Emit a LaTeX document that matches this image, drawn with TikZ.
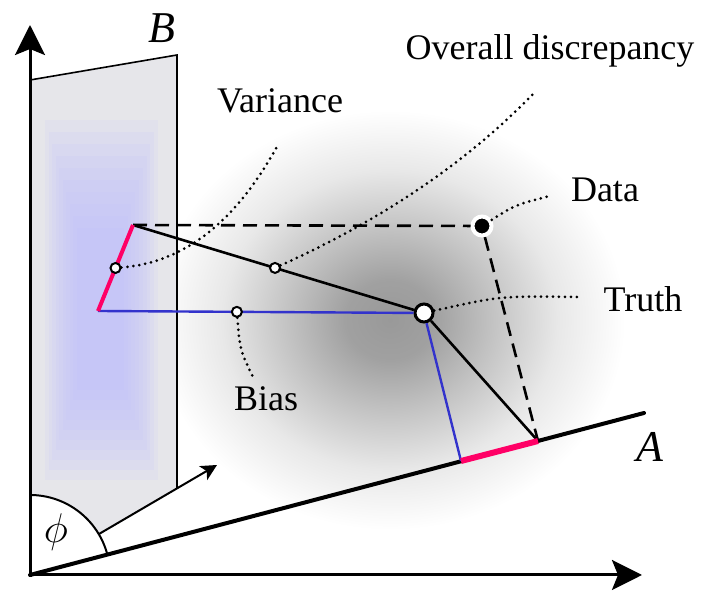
\documentclass[tikz,border=0pt]{standalone}
\usepackage{fontspec}
\setmainfont{Liberation Serif}
\usetikzlibrary{arrows.meta, calc}
\definecolor{hotpink}{RGB}{255,0,102}
\definecolor{biasblue}{RGB}{51,51,204}
\definecolor{planegray}{RGB}{230,230,234}
\definecolor{planeblue}{RGB}{190,190,255}
\pgfdeclareradialshading{cloud}{\pgfpointorigin}{color(0bp)=(black!40); color(4bp)=(black!37); color(9bp)=(black!24); color(15bp)=(black!9); color(21bp)=(white); color(50bp)=(white)}

\begin{document}
\begin{tikzpicture}[
    x=0.5pt, y=-0.5pt,
    font=\fontsize{18}{22}\selectfont,
    axis/.style={line width=1.5pt, -{Stealth[length=15pt, width=15pt, inset=3pt]}},
    fitline/.style={line width=1.3pt},
    projline/.style={line width=1.2pt, draw=biasblue},
    gapline/.style={line width=1.3pt, dash pattern=on 7pt off 4pt},
    note/.style={line width=1.5pt, line cap=round, dash pattern=on 0pt off 3pt},
    pt/.style={circle, draw=black, fill=white, line width=1pt, inner sep=0pt, minimum size=5pt},
    truthpt/.style={circle, draw=black, fill=white, line width=1.5pt, inner sep=0pt, minimum size=9pt},
    datapt/.style={circle, draw=white, fill=black, line width=2pt, inner sep=0pt, minimum size=9.5pt},
    letter/.style={font=\fontsize{22}{26}\selectfont\itshape}
]
\useasboundingbox (0,0) rectangle (703,592);

% Background cloud
\shade[shading=cloud] (390,320) ellipse [x radius=140pt, y radius=125pt];

% Plane B
\coordinate (O) at (30,575);
\fill[planegray] (30,80) -- (177,55) -- (177,488) -- (O) -- cycle;
\foreach \k in {0,...,9} {
    \fill[planeblue, fill opacity=0.12] (45+3.5*\k, 120+12*\k) rectangle (158-3.8*\k, 480-10*\k);
}
\fill[white] (O) -- (30,495) arc[start angle=90, end angle=14.8, radius=40pt] -- cycle;
\draw[line width=0.8pt] (30,80) -- (177,55) -- (177,488);

% Axes and plane A
\draw[axis] (30,577) -- (30,25);
\draw[axis] (29,575) -- (642,575);
\draw[line width=2pt, line cap=round] (O) -- (644,413);
\draw[line width=1pt] (30,495) arc[start angle=90, end angle=14.8, radius=40pt];
\draw[line width=1pt, -{Stealth[length=8pt, width=8pt, inset=2pt]}] (99,534) -- (217,465);

% Points
\coordinate (bTop) at (133,225);
\coordinate (bBot) at (98,311);
\coordinate (aLeft) at (461,461);
\coordinate (aRight) at (538,441);
\node[truthpt] (truth) at (424,313) {};
\node[datapt] (data) at (482,226) {};

% Projections
\draw[gapline] (bTop) -- (data);
\draw[gapline] (data) -- (aRight);
\draw[fitline] (bTop) -- (truth);
\draw[fitline] (truth) -- (aRight);
\draw[projline] (bBot) -- (truth);
\draw[projline] (truth) -- (aLeft);
\draw[hotpink, line width=2pt] (bTop) -- (bBot);
\draw[hotpink, line width=3pt] (aLeft) -- (aRight);

\node[pt] (var) at ($(bTop)!0.5!(bBot)$) {};
\node[pt] (ovr) at ($(bTop)!0.488!(truth)$) {};
\node[pt] (bias) at ($(bBot)!0.426!(truth)$) {};

% Labels
\node[anchor=base] (lblOvr) at (550,60) {Overall discrepancy};
\node[anchor=base] (lblVar) at (280,113) {Variance};
\node[anchor=base] (lblData) at (605,202) {Data};
\node[anchor=base] (lblTruth) at (643,312) {Truth};
\node[anchor=base] (lblBias) at (266,411) {Bias};
\node[letter, anchor=base] (lblB) at (162,43) {B};
\node[letter, anchor=base] (lblA) at (650,462) {A};
\node[font=\fontsize{20}{24}\selectfont] (lblPhi) at (56,532) {$\phi$};

\coordinate (varEnd) at (279,143);
\coordinate (ovrEnd) at (535,92);
\coordinate (dataEnd) at (550,196);
\coordinate (truthEnd) at (578,297);
\coordinate (biasEnd) at (253,377);

\draw[note] (var) .. controls (190,262) and (240,215) .. (varEnd);
\draw[note] (ovr) .. controls (370,225) and (460,170) .. (ovrEnd);
\draw[note] (data) .. controls (515,205) .. (dataEnd);
\draw[note] (truth) .. controls (500,296) .. (truthEnd);
\draw[note] (bias) .. controls (240,350) .. (biasEnd);

\end{tikzpicture}
\end{document}
